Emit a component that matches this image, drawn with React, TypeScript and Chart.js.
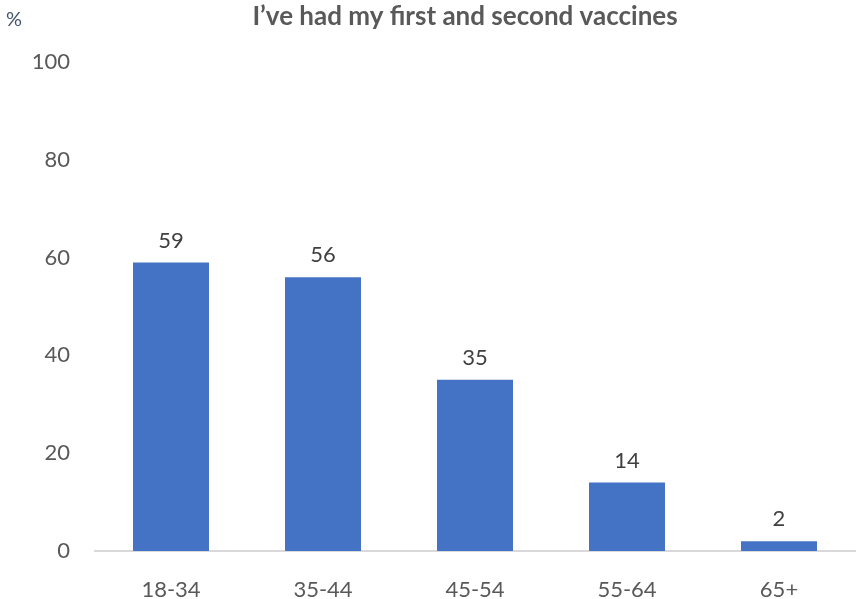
import React, { useEffect, useRef } from "react";
import { Chart, registerables } from "chart.js";

Chart.register(...registerables);

const categories = ["18-34", "35-44", "45-54", "55-64", "65+"];
const values = [59, 56, 35, 14, 2];
const yTicks = [0, 20, 40, 60, 80, 100];
const titleText = "I\u2019ve had my first and second vaccines";
const unitText = "%";

const FONT = "Lato, 'Open Sans', sans-serif";

const overlayPlugin = {
  id: "overlay",
  afterDatasetsDraw(chart: any) {
    const ctx = chart.ctx;
    const meta = chart.getDatasetMeta(0);
    ctx.save();
    ctx.fillStyle = "#404040";
    ctx.font = `22px ${FONT}`;
    ctx.textAlign = "center";
    ctx.textBaseline = "middle";
    meta.data.forEach((bar: any, i: number) => {
      ctx.fillText(String(values[i]), bar.x, bar.y - 22);
    });
    // title
    const area = chart.chartArea;
    ctx.fillStyle = "#595959";
    ctx.font = `bold 26px ${FONT}`;
    ctx.fillText(titleText, (area.left + area.right) / 2 - 10, 17);
    // unit
    ctx.fillStyle = "#44546A";
    ctx.font = `20px ${FONT}`;
    ctx.textAlign = "left";
    ctx.fillText(unitText, 6, 20);
    ctx.restore();
  },
};

export default function App() {
  const ref = useRef<HTMLCanvasElement | null>(null);
  useEffect(() => {
    document.body.style.margin = "0";
    const chart = new Chart(ref.current as HTMLCanvasElement, {
      type: "bar",
      data: {
        labels: categories,
        datasets: [
          {
            data: values,
            backgroundColor: "#4472C4",
            categoryPercentage: 0.5,
            barPercentage: 1,
          },
        ],
      },
      options: {
        animation: false,
        responsive: false,
        layout: { padding: { top: 62, right: 2, left: 0, bottom: 0 } },
        plugins: {
          legend: { display: false },
          tooltip: { enabled: false },
          title: { display: false },
        },
        scales: {
          x: {
            grid: { display: false },
            border: { display: true, color: "#D9D9D9", width: 2 },
            ticks: {
              color: "#595959",
              font: { family: FONT, size: 22 },
              padding: 18,
            },
            afterFit(scale: any) {
              scale.height = 48;
            },
          },
          y: {
            min: 0,
            max: 100,
            afterBuildTicks(scale: any) {
              scale.ticks = yTicks.map((v) => ({ value: v }));
            },
            grid: { display: false, drawTicks: false },
            border: { display: false },
            ticks: {
              color: "#595959",
              font: { family: FONT, size: 22 },
              padding: 25,
            },
            afterFit(scale: any) {
              scale.width = 95;
            },
          },
        },
      },
      plugins: [overlayPlugin],
    } as any);
    return () => chart.destroy();
  }, []);
  return <canvas ref={ref} width={857} height={599} style={{ display: "block" }} />;
}
